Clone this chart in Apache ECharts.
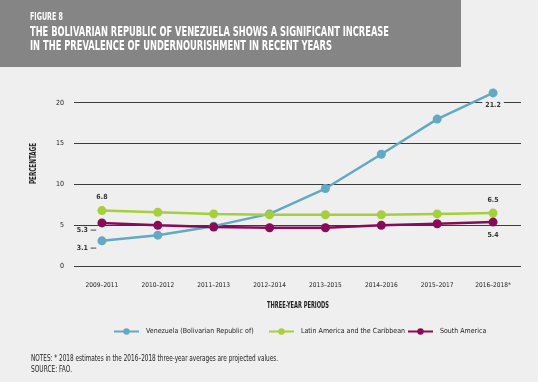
<!DOCTYPE html>
<html><head><meta charset="utf-8">
<script src="https://cdn.jsdelivr.net/npm/echarts@6/dist/echarts.min.js"></script>
<style>html,body{margin:0;padding:0;background:#efefef;}#c{width:538px;height:382px;}</style>
</head><body><div id="c"></div>
<script>
const categories = ['2009–2011','2010–2012','2011–2013','2012–2014','2013–2015','2014–2016','2015–2017','2016–2018*'];
const venezuela = [3.1, 3.8, 4.9, 6.4, 9.5, 13.7, 18.0, 21.2];
const latinAmerica = [6.8, 6.6, 6.4, 6.3, 6.3, 6.3, 6.4, 6.5];
const southAmerica = [5.3, 5.0, 4.8, 4.7, 4.7, 5.0, 5.2, 5.4];
const yTicks = [0, 5, 10, 15, 20];
const seriesNames = ['Venezuela (Bolivarian Republic of)', 'Latin America and the Caribbean', 'South America'];

const FONT = "'DejaVu Sans Condensed','Liberation Sans Narrow',sans-serif";
const colors = ['#63a9c3', '#a5cf3b', '#880b57'];

const mctx = document.createElement('canvas').getContext('2d');
function fitText(text, font, x, y, targetW, fill, extra) {
  mctx.font = font;
  const w = mctx.measureText(text).width;
  return Object.assign({ type: 'text', x: x, y: y, scaleX: targetW / w,
    style: { text: text, font: font, fill: fill, align: 'left', verticalAlign: 'middle' } }, extra || {});
}

function withLabels(arr, labels) {
  return arr.map((v, i) => labels[i] ? { value: v, label: Object.assign({ show: true }, labels[i]) } : v);
}
const lblBase = { fontFamily: FONT, fontSize: 7, fontWeight: 'bold', color: '#333' };

const chart = echarts.init(document.getElementById('c'), null, { renderer: 'canvas' });
chart.setOption({
  backgroundColor: '#efefef',
  animation: false,
  grid: { left: 74, right: 17, top: 82.3, bottom: 115.8 },
  xAxis: {
    type: 'category', data: categories, boundaryGap: true,
    axisLine: { show: false }, axisTick: { show: false },
    axisLabel: { interval: 0, fontFamily: FONT, fontSize: 6.5, color: '#222', margin: 16 }
  },
  yAxis: {
    type: 'value', min: 0, max: 22.5, interval: 5,
    axisLine: { show: false }, axisTick: { show: false },
    axisLabel: { fontFamily: FONT, fontSize: 7, color: '#222', margin: 10, showMaxLabel: false,
      formatter: v => yTicks.includes(v) ? String(v) : '' },
    splitLine: { show: true, showMaxLine: false, lineStyle: { color: '#3c3c3c', width: 1.2 } }
  },
  legend: [0, 1, 2].map(i => ({
    data: [seriesNames[i]], left: [108, 263, 402][i], top: 323,
    itemWidth: 25, itemHeight: 8, itemGap: 0,
    textStyle: { fontFamily: FONT, fontSize: 7, color: '#222', padding: [0, 0, 0, 2] }
  })),
  series: [
    { name: seriesNames[0], type: 'line', data: withLabels(venezuela, {
        0: Object.assign({}, lblBase, { position: 'left', distance: 1, offset: [0, 7], formatter: '3.1 —' }),
        7: Object.assign({}, lblBase, { position: 'bottom', distance: 3, backgroundColor: '#efefef', padding: [1, 3] })
      }),
      symbol: 'circle', symbolSize: 9, lineStyle: { width: 2.5, color: colors[0] }, itemStyle: { color: colors[0] } },
    { name: seriesNames[1], type: 'line', data: withLabels(latinAmerica, {
        0: Object.assign({}, lblBase, { position: 'top', distance: 5 }),
        7: Object.assign({}, lblBase, { position: 'top', distance: 5 })
      }),
      symbol: 'circle', symbolSize: 9, lineStyle: { width: 2.5, color: colors[1] }, itemStyle: { color: colors[1] } },
    { name: seriesNames[2], type: 'line', data: withLabels(southAmerica, {
        0: Object.assign({}, lblBase, { position: 'left', distance: 1, offset: [0, 7], formatter: '5.3 —' }),
        7: Object.assign({}, lblBase, { position: 'bottom', distance: 5 })
      }),
      symbol: 'circle', symbolSize: 9, lineStyle: { width: 2.5, color: colors[2] }, itemStyle: { color: colors[2] } }
  ],
  graphic: [
    { type: 'rect', left: 0, top: 0, shape: { width: 461, height: 67 }, style: { fill: '#858585' }, z: 0 },
    fitText('FIGURE 8', 'bold 10px ' + FONT, 30, 17.5, 33, '#fff'),
    fitText('THE BOLIVARIAN REPUBLIC OF VENEZUELA SHOWS A SIGNIFICANT INCREASE', 'bold 14px ' + FONT, 30, 32.5, 359, '#fff'),
    fitText('IN THE PREVALENCE OF UNDERNOURISHMENT IN RECENT YEARS', 'bold 14px ' + FONT, 30, 46.5, 302, '#fff'),
    fitText('THREE-YEAR PERIODS', 'bold 8px ' + FONT, 267, 306, 62, '#222'),
    fitText('PERCENTAGE', 'bold 8px ' + FONT, 34, 184, 41, '#222', { rotation: Math.PI / 2 }),
    fitText('NOTES: * 2018 estimates in the 2016–2018 three-year averages are projected values.', '8.5px ' + FONT, 31, 359, 247, '#222'),
    fitText('SOURCE: FAO.', '8.5px ' + FONT, 31, 369.5, 41, '#222')
  ]
});
</script></body></html>
